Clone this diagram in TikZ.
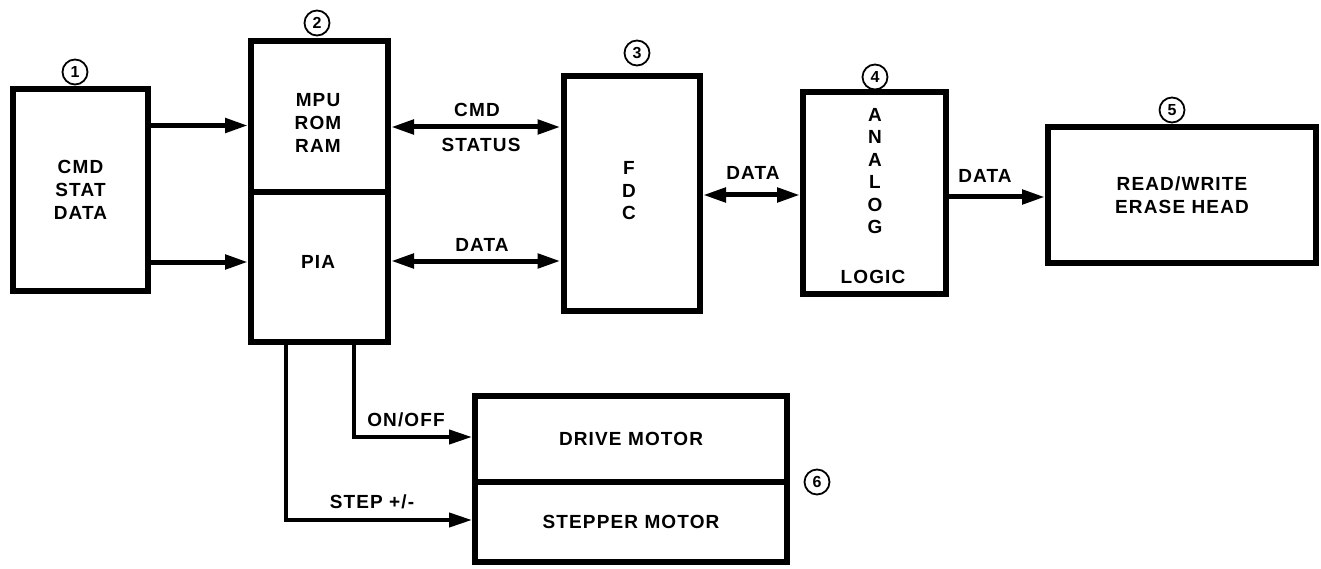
\documentclass[tikz,border=0pt]{standalone}
\usepackage{fontspec}
\setmainfont{Liberation Sans}[LetterSpace=6]
\usetikzlibrary{arrows.meta}
\begin{document}
\begin{tikzpicture}[x=1pt,y=-1pt,
  box/.style={draw, line width=6pt, inner sep=0pt, align=center, font=\bfseries\fontsize{19}{23}\selectfont},
  conn/.style={line width=5pt, -{Triangle[length=23pt,width=14pt]}},
  both/.style={line width=5pt, {Triangle[length=23pt,width=14pt]}-{Triangle[length=23pt,width=14pt]}},
  thinconn/.style={line width=4pt, -{Triangle[length=23pt,width=14pt]}},
  lbl/.style={font=\bfseries\fontsize{19}{23}\selectfont, inner sep=0pt, align=center},
  num/.style={draw, circle, line width=1.8pt, minimum size=25pt, inner sep=0pt, font=\bfseries\fontsize{16}{16}\selectfont}]
\useasboundingbox (0,0) rectangle (1321,569);

% boxes
\node[box, minimum width=135pt, minimum height=202pt] (cmd) at (80.5,190) {CMD\\STAT\\DATA};
\node[box, minimum width=137pt, minimum height=151pt] (mpu) at (319.5,116.5) {};
\node[lbl] (mputxt) at (318,123) {MPU\\ROM\\RAM};
\node[box, minimum width=137pt, minimum height=150pt] (pia) at (319.5,267) {};
\node[lbl] (piatxt) at (318,262) {PIA};
\node[box, minimum width=136.5pt, minimum height=235pt] (fdc) at (631.75,193.5) {};
\node[lbl, font=\bfseries\fontsize{19}{22.5}\selectfont] (fdctxt) at (629,191) {F\\D\\C};
\node[box, minimum width=143pt, minimum height=202pt] (analog) at (874.5,193) {};
\node[lbl, font=\bfseries\fontsize{19}{22.5}\selectfont] (analogtxt) at (875,171) {A\\N\\A\\L\\O\\G};
\node[lbl] (logictxt) at (873,277) {LOGIC};
\node[box, minimum width=268pt, minimum height=135pt] (rw) at (1182,195) {READ/WRITE\\ERASE HEAD};
\node[box, minimum width=312pt, minimum height=86pt] (drive) at (631,439) {DRIVE MOTOR};
\node[box, minimum width=312pt, minimum height=80pt] (stepper) at (631,522) {STEPPER MOTOR};

% circled numbers
\node[num] (n1) at (75,72) {1};
\node[num] (n2) at (317,23) {2};
\node[num] (n3) at (637,53) {3};
\node[num] (n4) at (875,77) {4};
\node[num] (n5) at (1172,110) {5};
\node[num] (n6) at (817,482) {6};

% connectors
\draw[conn] ([yshift=64.5pt]cmd.east) -- ([yshift=-9pt]mpu.west);
\draw[conn] ([yshift=-72pt]cmd.east) -- ([yshift=5pt]pia.west);
\draw[both] ([yshift=-10.5pt]mpu.east) -- ([yshift=66.5pt]fdc.west);
\draw[both] ([yshift=6pt]pia.east) -- ([yshift=-67.5pt]fdc.west);
\draw[both] ([yshift=-1.5pt]fdc.east) -- ([yshift=-2pt]analog.west);
\draw[conn] ([yshift=-4pt]analog.east) -- ([yshift=-2pt]rw.west);
\draw[thinconn] ([xshift=34.5pt]pia.south) |- ([yshift=2pt]drive.west);
\draw[thinconn] ([xshift=-33.5pt]pia.south) |- ([yshift=2pt]stepper.west);

% connector labels
\node[lbl] (lcmd) at (477,110) {CMD};
\node[lbl] (lstatus) at (481,145) {STATUS};
\node[lbl] (ldata1) at (482,245) {DATA};
\node[lbl] (ldata2) at (753,173) {DATA};
\node[lbl] (ldata3) at (985,176) {DATA};
\node[lbl] (lonoff) at (406,420) {ON/OFF};
\node[lbl] (lstep) at (372,502) {STEP +/-};
\end{tikzpicture}
\end{document}
